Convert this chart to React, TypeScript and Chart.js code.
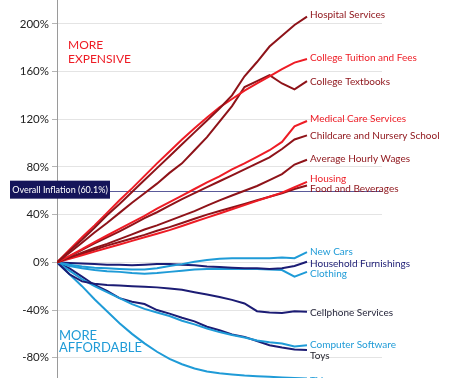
import React, { useEffect, useRef } from "react";
import { Chart, registerables } from "chart.js";

Chart.register(...registerables);

// Years 1997..2017 (index 0..20); x axis extends past the data to leave room for labels
const years = [1997, 1998, 1999, 2000, 2001, 2002, 2003, 2004, 2005, 2006, 2007, 2008, 2009, 2010, 2011, 2012, 2013, 2014, 2015, 2016, 2017];
const xAxisMax = 26;

// Cumulative price change (%) since start
const hospital = [0, 9.5, 19, 29, 39.5, 49, 59, 69, 79, 89, 99, 109, 119, 129, 140, 156, 168, 181, 190, 199, 206];
const tuition = [0, 10.5, 21, 31, 41.5, 52, 62, 72.5, 83, 93, 103, 112.5, 121.5, 130, 137, 144, 150, 156, 162, 167.5, 170.5];
const textbooks = [0, 8, 16.5, 25, 33, 41.5, 50, 58, 66, 75, 83, 94, 105, 118, 131, 147, 152, 157, 150, 145, 152];
const medical = [0, 5.5, 11, 17, 22.5, 28, 33.5, 39, 45, 50.5, 56, 61.5, 67, 72, 78, 83, 88.5, 94, 101, 114, 118.5];
const childcare = [0, 5, 10.5, 16, 21, 26, 31.5, 37, 42, 47.5, 53, 58, 63, 68, 73, 78, 83, 88, 95, 103, 106.5];
const wages = [0, 4, 8, 12, 15.5, 19.5, 23.5, 27.5, 31, 35, 39, 43, 47.5, 52, 56, 60, 64, 69, 74, 82, 86];
const housing = [0, 3, 6, 9, 12, 15, 18, 21, 24, 27, 30.5, 34, 37.5, 41, 44.5, 48, 51.5, 55, 58.5, 63, 67.5];
const food = [0, 3.5, 7, 10.5, 14, 17, 20, 23, 26.5, 29.5, 33, 36.5, 40, 43, 46, 49, 52, 55, 58, 61.5, 64.5];
const newCars = [0, -2, -3.5, -4.5, -5, -5.5, -6, -6, -5, -3, -1.5, 0.5, 2, 3, 3.5, 3.5, 3.5, 3.5, 4, 3.5, 8.5];
const furnishings = [0, -0.5, -1, -1.5, -2, -2, -2.5, -2, -1.5, -1.5, -2, -2.5, -3.5, -4, -4.5, -5, -5, -5.5, -5, -3, 0.5];
const clothing = [0, -3, -5, -6.5, -7.5, -8, -9, -9.5, -9, -8, -7, -6, -5.5, -5.5, -5.5, -5.5, -5.5, -6, -6.5, -12, -8];
const cellphone = [0, -10, -16, -18, -19, -19.5, -20, -20.5, -21, -22, -23, -25, -27, -29, -31.5, -34.5, -41, -42, -42.5, -41, -41.5];
const software = [0, -7, -14, -20, -25, -30, -35, -39, -42, -45, -49, -52, -55.5, -58.5, -61, -63, -65.5, -67, -68, -70.5, -69.5];
const toys = [0, -5, -12, -19, -24, -30, -33, -35, -40, -43, -46.5, -49.5, -54, -57, -60.5, -62.5, -66, -69.5, -71.5, -73, -73.5];
const tv = [0, -10, -20, -31, -41, -51, -60, -68, -75, -81, -85.5, -89, -91.5, -93, -94, -95, -95.5, -96, -96.5, -97, -97.5];

const yTickValues = [-80, -40, 0, 40, 80, 120, 160, 200];
const overallInflation = 60.1;

const DARK_RED = "#8e1319";
const RED = "#ee1c25";
const LIGHT_BLUE = "#1f9bd7";
const NAVY = "#1c1c74";

const series = [
  { name: "Hospital Services", data: hospital, color: DARK_RED, text: DARK_RED, dy: -1.5 },
  { name: "College Tuition and Fees", data: tuition, color: RED, text: RED, dy: -1 },
  { name: "College Textbooks", data: textbooks, color: DARK_RED, text: DARK_RED, dy: 1 },
  { name: "Medical Care Services", data: medical, color: RED, text: RED, dy: -2 },
  { name: "Childcare and Nursery School", data: childcare, color: DARK_RED, text: DARK_RED, dy: 0 },
  { name: "Average Hourly Wages", data: wages, color: DARK_RED, text: DARK_RED, dy: -1 },
  { name: "Housing", data: housing, color: RED, text: RED, dy: -3 },
  { name: "Food and Beverages", data: food, color: DARK_RED, text: DARK_RED, dy: 3 },
  { name: "New Cars", data: newCars, color: LIGHT_BLUE, text: LIGHT_BLUE, dy: 0 },
  { name: "Household Furnishings", data: furnishings, color: NAVY, text: NAVY, dy: 2 },
  { name: "Clothing", data: clothing, color: LIGHT_BLUE, text: LIGHT_BLUE, dy: 2 },
  { name: "Cellphone Services", data: cellphone, color: NAVY, text: "#25253a", dy: 1 },
  { name: "Computer Software", data: software, color: LIGHT_BLUE, text: LIGHT_BLUE, dy: 0 },
  { name: "Toys", data: toys, color: NAVY, text: "#1e1e28", dy: 6 },
  { name: "TV", data: tv, color: LIGHT_BLUE, text: LIGHT_BLUE, dy: 2.5 },
];

const FONT = "Lato, 'Open Sans', sans-serif";

const annotationPlugin = {
  id: "annotations",
  beforeDatasetsDraw(chart: any) {
    const { ctx, chartArea, scales } = chart;
    const y = Math.round(scales.y.getPixelForValue(overallInflation)) + 0.5;
    ctx.save();
    ctx.strokeStyle = "#5a5a9a";
    ctx.lineWidth = 1;
    ctx.beginPath();
    ctx.moveTo(chartArea.left, y);
    ctx.lineTo(chartArea.right, y);
    ctx.stroke();
    ctx.restore();
  },
  afterDraw(chart: any) {
    const { ctx, chartArea, scales } = chart;
    const xs = scales.x;
    const ys = scales.y;
    ctx.save();
    ctx.font = `10px ${FONT}`;
    ctx.textBaseline = "middle";
    ctx.textAlign = "left";
    series.forEach((s) => {
      const last = s.data.length - 1;
      const px = xs.getPixelForValue(last) + 3;
      const py = ys.getPixelForValue(s.data[last]) + s.dy;
      ctx.fillStyle = s.text;
      ctx.fillText(s.name, px, py);
    });

    const iy = ys.getPixelForValue(overallInflation);
    const bx = chartArea.left - 47;
    ctx.fillStyle = "#15155a";
    ctx.fillRect(bx, iy - 10, 100, 18);
    ctx.fillStyle = "#ffffff";
    ctx.font = `9px ${FONT}`;
    ctx.textAlign = "center";
    ctx.fillText("Overall Inflation (60.1%)", bx + 50, iy - 0.5);

    ctx.textAlign = "left";
    ctx.fillStyle = RED;
    ctx.font = `12px ${FONT}`;
    ctx.fillText("MORE", chartArea.left + 11, chartArea.top + 45);
    ctx.fillText("EXPENSIVE", chartArea.left + 11, chartArea.top + 59);
    ctx.fillStyle = LIGHT_BLUE;
    ctx.font = `13px ${FONT}`;
    ctx.fillText("MORE", chartArea.left + 2, chartArea.top + 336);
    ctx.fillText("AFFORDABLE", chartArea.left + 2, chartArea.top + 348);
    ctx.restore();
  },
};

export default function App() {
  const canvasRef = useRef<HTMLCanvasElement | null>(null);

  useEffect(() => {
    if (!canvasRef.current) return;
    const chart = new Chart(canvasRef.current, {
      type: "line",
      data: {
        datasets: series.map((s) => ({
          label: s.name,
          data: s.data.map((v, i) => ({ x: i, y: v })),
          borderColor: s.color,
          backgroundColor: s.color,
          borderWidth: 2,
          pointRadius: 0,
          tension: 0,
          fill: false,
        })),
      },
      options: {
        animation: false,
        responsive: true,
        maintainAspectRatio: false,
        layout: { padding: { left: 0, right: 72, top: 0, bottom: 0 } },
        plugins: { legend: { display: false }, tooltip: { enabled: false } },
        scales: {
          x: { type: "linear", min: 0, max: xAxisMax, display: false },
          y: {
            type: "linear",
            min: -97,
            max: 220,
            afterBuildTicks: (scale: any) => {
              scale.ticks = yTickValues.map((v) => ({ value: v }));
            },
            afterFit: (scale: any) => {
              scale.width = 57;
              scale.paddingTop = 0;
              scale.paddingBottom = 0;
            },
            grid: { color: "#e4e4e4", tickColor: "#b5b5b5", tickLength: 5, drawTicks: true },
            border: { color: "#9a9a9a", width: 1 },
            ticks: {
              padding: 3,
              color: "#222222",
              font: { family: FONT, size: 11.5 },
              callback: (v: any) => `${v}%`,
            },
          },
        },
      },
      plugins: [annotationPlugin],
    });
    return () => chart.destroy();
  }, []);

  return (
    <div style={{ position: "absolute", left: 0, top: 0, width: 454, height: 378, background: "#fff" }}>
      <canvas ref={canvasRef} />
    </div>
  );
}
